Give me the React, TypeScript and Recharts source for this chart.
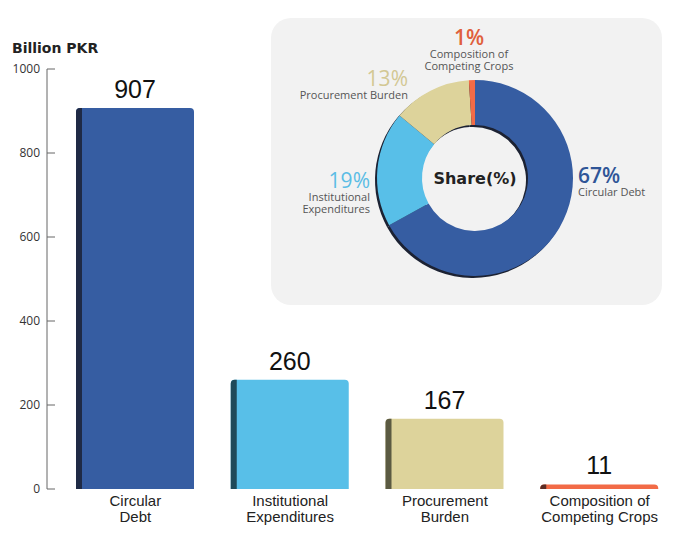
import { BarChart, Bar, XAxis, YAxis, LabelList, PieChart, Pie, Cell } from "recharts";

const categories = [
  "Circular Debt",
  "Institutional Expenditures",
  "Procurement Burden",
  "Composition of Competing Crops",
];
const categoryLines = [
  ["Circular", "Debt"],
  ["Institutional", "Expenditures"],
  ["Procurement", "Burden"],
  ["Composition of", "Competing Crops"],
];
const amounts = [907, 260, 167, 11];
const shares = [67, 19, 13, 1];
const shareLabels = [
  ["Circular Debt"],
  ["Institutional", "Expenditures"],
  ["Procurement Burden"],
  ["Composition of", "Competing Crops"],
];
const yTicks = [0, 200, 400, 600, 800, 1000];

const barColors = ["#365da2", "#58bfe8", "#ddd39b", "#f26b47"];
const edgeColors = ["#1f2a45", "#1f4a59", "#5b5a42", "#5a2d25"];
const pctColors = ["#2f5597", "#5bbde5", "#d3c894", "#e0603c"];

// where each slice's annotation sits, relative to the donut centre
const shareLayout = [
  { dx: 103, dy: 5, anchor: "start" },
  { dx: -105, dy: 10, anchor: "end" },
  { dx: -67, dy: -92, anchor: "end" },
  { dx: -6, dy: -133, anchor: "middle" },
];

const barData = categories.map((name, i) => ({ name, amount: amounts[i] }));
const pieData = categories.map((name, i) => ({ name, share: shares[i] }));

const sans = "'Liberation Sans', Arial, sans-serif";
const open = "'Open Sans', sans-serif";
const dejavu = "'DejaVu Sans', sans-serif";

const BarShape = (props: any) => {
  const { x, y, width, height, index } = props;
  if (!height || height <= 0) return null;
  const r = Math.min(4, height);
  const edge = 6;
  const main = `M${x},${y + height} L${x},${y + r} Q${x},${y} ${x + r},${y} L${x + width - r},${y} Q${x + width},${y} ${x + width},${y + r} L${x + width},${y + height} Z`;
  const side = `M${x},${y + height} L${x},${y + r} Q${x},${y} ${x + r},${y} L${x + edge},${y} L${x + edge},${y + height} Z`;
  return (
    <g>
      <path d={main} fill={barColors[index]} />
      <path d={side} fill={edgeColors[index]} />
    </g>
  );
};

const XTick = (props: any) => {
  const { x, y, payload } = props;
  const lines = categoryLines[payload.index] || [payload.value];
  return (
    <text x={x} y={y} textAnchor="middle" fontSize={15} fill="#222" fontFamily={sans}>
      {lines.map((l, i) => (
        <tspan key={i} x={x} dy={i === 0 ? 17 : 16}>
          {l}
        </tspan>
      ))}
    </text>
  );
};

const YTick = (props: any) => {
  const { x, y, payload } = props;
  return (
    <g>
      <line x1={x + 7} x2={x + 15} y1={y} y2={y} stroke="#666" strokeWidth={1} />
      <text x={x} y={y + 4} textAnchor="end" fontSize={12} fill="#333" fontFamily={open}>
        {payload.value}
      </text>
    </g>
  );
};

const renderShareLabel = (props: any) => {
  const { cx, cy, index } = props;
  const lay = shareLayout[index];
  const x = cx + lay.dx;
  const y = cy + lay.dy;
  return (
    <g key={`lbl-${index}`}>
      {index === 0 && (
        <text
          x={cx}
          y={cy + 6}
          textAnchor="middle"
          fontSize={16}
          fontWeight={700}
          fill="#222"
          fontFamily={dejavu}
        >
          Share(%)
        </text>
      )}
      <text x={x} y={y} textAnchor={lay.anchor} fontFamily={open}>
        <tspan
          fontSize={21}
          fontWeight={index === 0 || index === 3 ? 600 : 400}
          fill={pctColors[index]}
        >
          {shares[index]}%
        </tspan>
        {shareLabels[index].map((l, i) => (
          <tspan key={i} x={x} dy={i === 0 ? 13 : 12} fontSize={11} fill="#555">
            {l}
          </tspan>
        ))}
      </text>
    </g>
  );
};

export default function App() {
  return (
    <div style={{ position: "absolute", left: 0, top: 0, width: 677, height: 536, background: "#fff" }}>
      <div
        style={{
          position: "absolute",
          left: 12,
          top: 41,
          fontFamily: dejavu,
          fontWeight: 700,
          fontSize: 14,
          lineHeight: 1,
          color: "#222",
          whiteSpace: "nowrap",
        }}
      >
        Billion PKR
      </div>
      <BarChart
        width={677}
        height={536}
        data={barData}
        margin={{ top: 69, right: 0, bottom: 0, left: 0 }}
      >
        <YAxis
          domain={[0, 1000]}
          ticks={yTicks}
          width={47}
          tickSize={0}
          tickMargin={7}
          tickLine={false}
          axisLine={{ stroke: "#666" }}
          tick={<YTick />}
          interval={0}
        />
        <XAxis
          dataKey="name"
          height={47}
          padding={{ left: 11, right: 0 }}
          axisLine={false}
          tickLine={false}
          tickSize={0}
          tickMargin={0}
          interval={0}
          tick={<XTick />}
        />
        <Bar dataKey="amount" barSize={118} shape={<BarShape />} isAnimationActive={false}>
          <LabelList
            dataKey="amount"
            position="top"
            offset={10}
            fontSize={25}
            fill="#111"
            fontFamily={sans}
          />
        </Bar>
      </BarChart>
      <div
        style={{
          position: "absolute",
          left: 271,
          top: 18,
          width: 391,
          height: 287,
          background: "#f2f2f2",
          borderRadius: 20,
        }}
      >
        <PieChart width={391} height={287} margin={{ top: 0, right: 0, bottom: 0, left: 0 }}>
          <Pie
            data={pieData}
            dataKey="share"
            cx={202}
            cy={162}
            innerRadius={53}
            outerRadius={98}
            startAngle={90}
            endAngle={-270}
            stroke="none"
            fill="#1c2233"
            isAnimationActive={false}
          />
          <Pie
            data={pieData}
            dataKey="share"
            cx={204}
            cy={160}
            innerRadius={53}
            outerRadius={98}
            startAngle={90}
            endAngle={-270}
            stroke="none"
            labelLine={false}
            label={renderShareLabel}
            isAnimationActive={false}
          >
            {pieData.map((d, i) => (
              <Cell key={d.name} fill={barColors[i]} stroke="none" />
            ))}
          </Pie>
        </PieChart>
      </div>
    </div>
  );
}
